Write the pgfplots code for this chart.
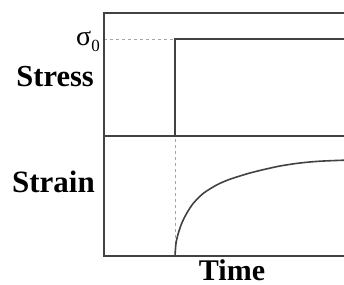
\documentclass[border=0pt]{standalone}
\usepackage{fontspec}
\setmainfont{Liberation Serif}
\usepackage{pgfplots}
\pgfplotsset{compat=1.18}
\definecolor{spine}{gray}{0.26}
\begin{document}
\begin{tikzpicture}[x=1pt,y=1pt]
\useasboundingbox (0,0) rectangle (344,284);
% Stress panel
\begin{axis}[at={(104pt,148pt)},anchor=south west,scale only axis,
  width=240pt,height=123pt,xmin=0,xmax=10,ymin=0,ymax=1.268,
  axis line style={draw=none},ticks=none,clip=false]
  \addplot[gray!70,line width=0.8pt,dash pattern=on 3pt off 3pt] coordinates {(0,1) (2.96,1)};
  \addplot[spine,line width=2pt] coordinates {(2.96,0) (2.96,1) (10.2,1)};
  \draw[spine,line width=2.2pt] (rel axis cs:1.02,1) -- (rel axis cs:0,1) -- (rel axis cs:0,0) -- (rel axis cs:1.02,0);
\end{axis}
% Strain panel
\begin{axis}[at={(104pt,28pt)},anchor=south west,scale only axis,
  width=240pt,height=120pt,xmin=0,xmax=10,ymin=0,ymax=1,
  axis line style={draw=none},ticks=none,clip=false]
  \addplot[gray!70,line width=0.8pt,dash pattern=on 3pt off 3pt] coordinates {(2.96,0) (2.96,1)};
  \addplot[spine,line width=1.6pt,smooth] coordinates {
    (2.958,0) (3.0,0.106) (3.096,0.189) (3.238,0.272) (3.446,0.356)
    (3.721,0.439) (4.138,0.522) (4.696,0.592) (5.25,0.640) (6.083,0.692)
    (6.5,0.713) (7.333,0.750) (8.167,0.775) (9.0,0.790) (10.1,0.799)};
  \draw[spine,line width=2.2pt] (rel axis cs:1.02,1) -- (rel axis cs:0,1) -- (rel axis cs:0,0) -- (rel axis cs:1.02,0);
\end{axis}
\node[anchor=base east,inner sep=0pt,font=\fontsize{30.5}{34}\selectfont\bfseries] at (94,197) {Stress};
\node[anchor=base east,inner sep=0pt,font=\fontsize{31}{34}\selectfont\bfseries] at (95,92) {Strain};
\node[anchor=base,inner sep=0pt,font=\fontsize{30}{34}\selectfont\bfseries] at (232,4) {Time};
\node[anchor=base east,inner sep=0pt,font=\fontsize{28}{30}\selectfont] at (100,238.5) {σ\raisebox{-6pt}{\fontsize{17}{18}\selectfont 0}};
\end{tikzpicture}
\end{document}
